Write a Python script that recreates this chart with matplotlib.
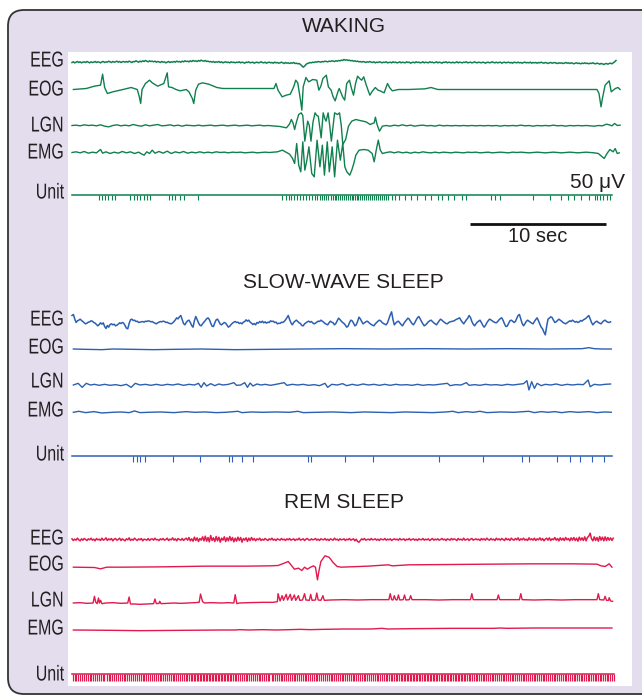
import numpy as np
import matplotlib.pyplot as plt
from matplotlib.patches import FancyBboxPatch, Rectangle
from matplotlib.patheffects import AbstractPathEffect
from matplotlib.transforms import Affine2D
from matplotlib import font_manager

# ---------------- data (time in s, amplitude in uV, up = positive) ----------------
DT = 0.1  # sampling step of the EEG lists

WAKE_EEG = [0, 2, -1, 1, 3, 0, 2, -1, 1, 2, 0, 3, 1, -1, 2, 0, 1, 3, 0, 2,
            1, -1, 2, 3, 0, 2, 1, 4, 2, 0, 3, 1, 2, 4, 1, 3, 0, 2, 3, 1,
            3, 1, 4, 2, 0, 3, 2, 5, 3, 1, 4, 2, 5, 3, 6, 4, 2, 5, 3, 4,
            2, 4, 1, 3, 2, 0, 3, 1, 2, -1, 1, 3, 0, 2, 1, 3, 1, 4, 2, 3,
            1, 4, 2, 5, 3, 4, 2, 5, 3, 6, 4, 5, 3, 6, 4, 7, 5, 4, 6, 3,
            4, 2, 3, 1, 3, 0, 2, 1, 3, 0, 2, -1, 1, 2, 0, 1, -1, 2, 0, 1,
            -1, 1, 0, 2, -1, 1, 0, -2, 1, 0, 2, -1, 0, 1, -2, 0, 1, -1, 0, 2,
            0, -1, 1, -2, 0, 1, -1, 0, -2, 1, -1, 0, -2, -1, 1, -1, -3, 0, -2, -1,
            -3, -1, -2, 0, -3, -2, -4, -3, -6, -10, -14, -11, -6, -3, -2, 0, -1, 1, 0, 2,
            1, 3, 2, 1, 3, 2, 4, 3, 2, 4, 3, 5, 4, 3, 5, 4, 6, 5, 7, 6,
            9, 7, 8, 6, 7, 5, 6, 4, 5, 3, 4, 2, 3, 1, 3, 2, 0, 2, 1, 3,
            1, 0, 2, -1, 1, 0, 2, 1, -1, 1, 0, 2, -1, 0, 1, -1, 2, 0, 1, -1,
            0, 2, -1, 1, 0, -1, 2, 0, 1, -2, 0, 1, -1, 2, 0, 1, -1, 0, 2, -1,
            1, 0, -1, 2, 0, 1, -1, 0, 2, -1, 1, 0, -2, 1, 0, 2, -1, 1, 0, -1,
            1, -1, 0, 2, -1, 1, 0, -1, 1, 0, 2, -1, 0, 1, -1, 0, 2, 0, -1, 1,
            0, -1, 1, 0, -2, 0, 1, -1, 0, 2, 0, -1, 1, -1, 0, 1, -2, 0, 1, -1,
            0, 1, -1, 0, -2, 1, 0, -1, 1, -1, 0, -2, 0, 1, -1, 0, -1, 1, -2, 0,
            -1, 0, -2, 0, -1, 1, -1, -2, 0, -1, -3, -1, 0, -2, -1, 0, -2, -3, -1, -2,
            -1, -3, -2, 0, -2, -1, -3, -1, -2, -4, -2, -1, -3, -2, -4, -2, -3, -1, -3, -2,
            -4, -2, -3, -1, -3, -4, -2, -3, -5, -3, -4, -6, -4, -3, -5, -3, -2, -4, -1, 2,
            6]

WAKE_EOG = [(0.1, 0), (1.05, 3), (1.65, 10), (2.1, 13), (2.25, 46), (2.4, 6), (2.6, -12),
            (3.0, -7), (3.75, 0), (4.35, 6), (4.8, 0), (4.95, -22), (5.05, -42), (5.15, 0),
            (5.4, 18), (5.7, 28), (5.9, 20), (6.3, 10), (6.75, 18), (7.0, 50), (7.1, 8),
            (7.35, 6), (7.65, 0), (7.95, -4), (8.4, 0), (8.6, -7), (8.85, -27), (8.95, -42),
            (9.1, -2), (9.3, 16), (9.6, 20), (10.05, 16), (10.65, 6), (11.1, 3), (14.85, 3),
            (15.0, 18), (15.15, -2), (15.45, -22), (15.75, -17), (16.05, -14), (16.3, 8),
            (16.45, 28), (16.6, 20), (16.8, -32), (16.9, -62), (17.0, 8), (17.2, 36),
            (17.4, 23), (17.7, 30), (18.0, 28), (18.15, -2), (18.3, 10), (18.45, 33),
            (18.7, 43), (18.85, 8), (19.05, -2), (19.2, -22), (19.35, -34), (19.55, -7),
            (19.65, 3), (19.9, -22), (20.05, -32), (20.2, 18), (20.4, 28), (20.55, 3),
            (20.7, -17), (20.85, 18), (21.0, 40), (21.15, 33), (21.3, 28), (21.45, 38),
            (21.6, 18), (21.75, 0), (21.9, -17), (22.05, -7), (22.3, 6), (22.5, -2),
            (22.65, -4), (22.95, -10), (23.2, 18), (23.35, 6), (23.55, -4), (24.0, 0),
            (24.75, 0), (25.95, 2), (26.4, 6), (26.9, 0), (38.6, 0), (38.75, -12),
            (38.9, -52), (39.0, -27), (39.2, 13), (39.5, 26), (39.65, -7), (39.95, 3),
            (40.15, 6), (40.3, 0)]

WAKE_LGN = [(0, 0), (0.3, 1), (0.6, -1), (0.9, 2), (1.2, 0), (1.5, 1), (1.8, -1), (2.1, 2),
            (2.4, -2), (2.7, -4), (3.0, 0), (3.3, 2), (3.6, -1), (3.9, 1), (4.2, -1), (4.5, 3),
            (4.8, 0), (5.1, -2), (5.4, 2), (5.7, -1), (6.0, 1), (6.3, 3), (6.6, -1), (6.9, 0),
            (7.2, 2), (7.5, -1), (7.8, 1), (8.1, -2), (8.4, 1), (8.7, 0), (9.0, -1), (9.3, 1),
            (9.6, -1), (9.9, 0), (10.2, 1), (10.5, -1), (10.8, 0), (11.1, 1), (11.4, -1),
            (11.7, 0), (12.0, 1), (12.3, -1), (12.6, 0), (12.9, 1), (13.2, -1), (13.5, 0),
            (13.8, 1), (14.1, -1), (14.4, 0), (14.7, -1), (15.0, -2), (15.3, -3), (15.55, -5),
            (15.77, -7), (16.0, 5), (16.13, 18), (16.25, 8), (16.37, -12), (16.5, 10),
            (16.67, 33), (16.85, 38), (16.97, 30), (17.12, -47), (17.33, 13), (17.45, 0),
            (17.57, -47), (17.72, 10), (17.87, 38), (18.0, 30), (18.11, 28), (18.32, -37),
            (18.47, 38), (18.6, 20), (18.68, 13), (18.83, 38), (18.95, 0), (19.07, -47),
            (19.2, 0), (19.31, 38), (19.52, 33), (19.67, 38), (19.8, 0), (19.91, -57),
            (20.12, -42), (20.33, -2), (20.57, 13), (20.87, 18), (21.17, 15), (21.62, 11),
            (21.92, 3), (22.22, 8), (22.31, 25), (22.43, 3), (22.61, -17), (22.82, -2),
            (23.1, 0), (23.4, -2), (23.7, 1), (24.0, -1), (24.3, 2), (24.6, -1), (24.9, 1),
            (25.2, -2), (25.5, 0), (25.8, 1), (26.1, -1), (26.4, 0), (26.7, -2), (27.0, 1),
            (27.3, -1), (27.6, 0), (27.9, -1), (28.2, 0), (28.5, -1), (28.8, 0), (29.1, -1),
            (29.4, 0), (29.7, -1), (30.0, 0), (30.3, -1), (30.6, 0), (30.9, -1), (31.2, 0),
            (31.5, -2), (31.8, 0), (32.1, -1), (32.4, 0), (32.7, -1), (33.0, 1), (33.3, -1),
            (33.6, 0), (33.9, -2), (34.2, 0), (34.5, -1), (34.8, 0), (35.1, -1), (35.4, 1),
            (35.7, -1), (36.0, 0), (36.3, -2), (36.6, 0), (36.9, -1), (37.2, 0), (37.5, -1),
            (37.8, 0), (38.1, -1), (38.4, -2), (38.7, 0), (39.0, -1), (39.3, 4), (39.5, 2),
            (39.7, -1), (39.9, 6), (40.1, 0), (40.3, 1)]

WAKE_EMG = [(0, 0), (0.3, 2), (0.6, -1), (0.9, 3), (1.2, -2), (1.5, 1), (1.8, -1), (2.1, 9),
            (2.25, -2), (2.5, 2), (2.8, -3), (3.1, 1), (3.4, -2), (3.7, 3), (4.0, -1), (4.3, 2),
            (4.6, -3), (4.9, 1), (5.1, -4), (5.3, -8), (5.5, 2), (5.7, -3), (5.9, 7), (6.1, -2),
            (6.4, 3), (6.7, -2), (7.0, 4), (7.3, -3), (7.6, 2), (7.9, -1), (8.2, 3), (8.5, -2),
            (8.8, 1), (9.1, -1), (9.4, 2), (9.7, -1), (10.0, 1), (10.3, -1), (10.6, 2),
            (10.9, 0), (11.2, 1), (11.5, -1), (11.8, 1), (12.1, 0), (12.4, 1), (12.7, -1),
            (13.0, 0), (13.3, 1), (13.6, -1), (13.9, 0), (14.2, 1), (14.5, 0), (14.8, 1),
            (15.1, 2), (15.47, 7), (15.77, 0), (16.0, -5), (16.22, -18), (16.37, -33),
            (16.52, 27), (16.67, -38), (16.82, -58), (16.97, 32), (17.12, -53), (17.27, -23),
            (17.42, 17), (17.63, -63), (17.81, -73), (18.02, 37), (18.23, -43), (18.41, 22),
            (18.56, -68), (18.77, 32), (18.92, -58), (19.13, 17), (19.31, -73), (19.52, 37),
            (19.73, -23), (19.91, 27), (20.06, -43), (20.21, -58), (20.42, -68), (20.57, -53),
            (20.72, -33), (20.87, -8), (21.11, 7), (21.47, 9), (21.77, 7), (22.07, -3),
            (22.22, -28), (22.37, 7), (22.52, 37), (22.67, 7), (22.82, -3), (23.12, 0),
            (23.4, 2), (23.7, -1), (24.0, 2), (24.3, -1), (24.6, 1), (24.9, -2), (25.2, 1),
            (25.5, -1), (25.8, 2), (26.1, 0), (26.4, -1), (26.7, 1), (27.0, -1), (27.3, 1),
            (27.6, 0), (27.9, -1), (28.2, 1), (28.5, 0), (28.8, -1), (29.1, 1), (29.4, 0),
            (29.7, 1), (30.0, -1), (30.3, 0), (30.6, 1), (30.9, -1), (31.2, 0), (31.5, 1),
            (31.8, 0), (32.1, -1), (32.4, 1), (32.7, 0), (33.0, 1), (33.3, 0), (33.6, -1),
            (33.9, 0), (34.2, 1), (34.5, 0), (34.8, -1), (35.1, 0), (35.4, 1), (35.7, 0),
            (36.0, -1), (36.3, 0), (36.6, 1), (36.9, 0), (37.2, -1), (37.5, 0), (37.8, 1),
            (38.1, 0), (38.4, -1), (38.7, -3), (39.13, -18), (39.34, -3), (39.55, 9),
            (39.79, 2), (39.94, 12), (40.09, -3), (40.24, -1)]

WAKE_UNIT = [1.95, 2.19, 2.43, 2.67, 2.91, 3.15, 4.29, 4.53, 4.77, 5.02, 5.26, 5.5, 5.71,
             7.12, 7.36, 7.6, 7.96, 8.26, 9.28,
             15.47, 15.77, 15.92, 16.13, 16.31, 16.52, 16.76, 16.97, 17.21, 17.42, 17.66,
             17.87, 18.05, 18.23, 18.41, 18.56, 18.71, 18.86, 19.01, 19.16, 19.31, 19.43,
             19.55, 19.67, 19.82, 19.97, 20.12, 20.27, 20.42, 20.57, 20.69, 20.81, 20.93,
             21.05, 21.17, 21.32, 21.47, 21.62, 21.77, 21.92, 22.07, 22.22, 22.37, 22.52,
             22.67, 22.82, 22.97, 23.12, 23.27, 23.51, 23.72,
             24.02, 24.47, 24.92, 25.38, 25.98, 26.43, 26.88, 27.18, 27.63, 28.08, 28.68,
             28.98, 30.78, 31.08, 31.44, 33.93, 35.14, 35.95, 36.49, 36.94, 37.39, 37.99,
             38.44, 38.59, 38.83, 39.07, 39.34, 39.55]

SWS_EEG = [18, 21, 8, -3, 2, 4, 7, 3, 0, -4, -7, -5, -2, -1, 2, 1, -3, -5, -9, -13,
           -9, -4, -8, -4, -15, -21, -12, -17, -9, -7, -10, -8, -13, -11, -8, -4, -6, -3, -5, -12,
           -20, -22, -6, 5, 7, 3, 4, 0, 1, -3, -2, -1, 0, -2, 1, 0, 2, 1, -1, 0,
           -3, -5, -7, -4, -2, 0, -1, 1, 0, -3, -2, -5, -6, -7, -4, 0, 5, 11, 8, 14,
           18, 6, -6, -10, -3, 2, 4, -3, -12, -17, 2, 15, 6, -4, -11, -13, -7, -2, 3, 8,
           11, 6, -5, -14, -15, -4, 5, 7, 0, -8, -10, -6, -3, -5, -11, -17, -14, -9, -5, -2,
           0, -3, -2, -6, -4, -7, -2, 0, 5, 1, 4, -2, -5, -9, -6, -10, -3, -5, 0, -3,
           1, -4, -1, -5, -2, -3, 2, 0, 1, -3, -2, -7, -5, -6, -2, -3, 0, 5, 11, 18,
           6, -4, -10, -3, 1, 4, 0, -4, -6, -12, -13, -7, -4, -1, 1, -2, 0, -4, -7, -5,
           -2, 1, 0, 4, 1, -2, -6, -8, -10, -4, 1, -2, -4, -10, -6, 2, 10, 6, 1, -3,
           -6, -11, -17, -14, -4, 4, 2, -5, -13, -10, 0, 13, 8, 0, -7, -4, -1, 1, -2, -6,
           -9, -11, -13, -7, -3, 1, 4, 2, -3, -6, -8, -10, -4, 8, 20, 29, 6, -10, -5, -1,
           1, -4, -9, -13, -6, 0, 5, 10, 7, 0, -6, -10, -4, 4, 11, 15, 8, 0, -7, -13,
           -10, -6, -1, 2, 4, 0, -4, -7, -10, -4, 2, 7, 4, 0, -3, -6, -7, -3, -1, 0,
           1, 2, 5, 7, 9, 11, 4, -2, -7, -1, 5, 10, 18, 12, 0, -8, -13, -7, -2, 1,
           4, -3, -11, -17, -12, -4, 2, 7, 5, 2, -1, -3, -4, 0, 5, 9, 11, 3, -7, -15,
           -14, -6, 2, 4, 1, -3, 0, 9, 18, 21, 8, -6, -13, -7, 0, 4, 1, -2, -5, -7,
           0, 6, 11, 2, -8, -17, -22, -32, -40, -15, 7, 10, 14, 12, 4, -3, -1, 3, 7, 4,
           1, -3, -5, -7, -4, -1, 2, 0, 4, 1, -2, 0, -3, -1, 3, 1, 5, 7, 10, 14,
           18, 8, -3, -10, -5, -1, 1, -3, -5, -7, -2, 2, 4, 0, -2, -3, -1]

SWS_EOG = [(0.1, 0), (1.0, -1), (2.2, -2), (3.0, 0), (4.5, -1), (6.0, -2), (7.5, -1),
           (9.5, 0), (12.0, -2), (14.5, -1), (17.0, 0), (20.0, 1), (23.0, 0), (26.0, 1),
           (29.0, 0), (32.0, 1), (35.0, 0), (37.5, 1), (38.0, 4), (38.4, 1), (39.0, 0),
           (39.65, 0)]

SWS_LGN = [(0.1, 0), (0.45, 5), (0.75, -7), (1.05, 5), (1.35, 0), (1.65, 2), (2.0, -1),
           (2.4, 2), (2.8, -1), (3.2, 1), (3.6, -2), (4.0, 2), (4.35, -7), (4.65, 5), (5.0, 0),
           (5.4, 2), (5.8, -1), (6.2, 2), (6.6, -1), (7.0, 2), (7.4, 0), (7.8, 3), (8.2, -1),
           (8.6, 2), (9.0, 0), (9.3, 5), (9.5, -7), (9.7, 7), (9.9, -3), (10.2, 4), (10.5, -2),
           (10.8, 3), (11.1, 0), (11.5, 2), (11.9, 7), (12.1, -1), (12.4, 0), (12.7, 7),
           (12.9, -7), (13.1, 6), (13.3, -3), (13.6, 3), (13.9, 0), (14.2, 2), (14.6, -1),
           (15.0, 2), (15.6, 7), (15.8, -1), (16.2, 2), (16.6, 0), (17.0, 2), (17.4, -1),
           (17.8, 1), (18.2, -2), (18.6, 5), (18.8, -7), (19.1, 2), (19.5, 0), (19.9, 4),
           (20.2, -2), (20.6, 2), (21.0, -1), (21.4, 3), (21.8, 0), (22.2, 2), (22.6, -1),
           (23.0, 2), (23.4, -1), (23.8, 2), (24.2, 0), (24.6, 1), (25.0, -1), (25.4, 2),
           (25.8, -1), (26.2, 1), (26.6, 0), (27.0, 2), (27.6, 5), (27.8, -2), (28.2, 1),
           (28.6, 0), (29.0, 7), (29.2, -1), (29.6, 1), (30.0, -1), (30.4, 2), (30.8, 0),
           (31.2, 1), (31.6, -1), (32.0, 2), (32.4, 0), (32.8, 2), (33.2, 4), (33.45, 13),
           (33.6, -15), (33.8, 10), (34.0, -10), (34.2, 5), (34.5, -2), (34.8, 2), (35.2, 0),
           (35.6, 3), (36.0, -1), (36.4, 2), (36.8, 0), (37.2, 2), (37.6, 1), (37.95, 15),
           (38.1, -5), (38.4, 2), (38.8, 0), (39.2, 2), (39.6, 3)]

SWS_EMG = [(0.1, 0), (0.5, 3), (1.0, -1), (1.6, 2), (2.2, -2), (3.0, 0), (3.6, 1), (4.2, -1),
           (4.6, 4), (5.0, -1), (5.6, 0), (6.5, 1), (7.5, -1), (8.4, 2), (9.0, 0), (9.8, 1),
           (10.6, -1), (11.3, 0), (12.2, 3), (12.5, -1), (13.2, 1), (14.0, 0), (15.0, 1),
           (16.0, 0), (16.6, 3), (17.0, -1), (18.0, 0), (19.2, 1), (20.5, -1), (21.5, 1),
           (22.5, 0), (23.5, -1), (24.5, 1), (25.5, 0), (26.5, -1), (27.5, 1), (28.0, 3),
           (28.4, -1), (29.0, 2), (29.5, 0), (30.0, 3), (30.5, -1), (31.5, 1), (32.5, 0),
           (33.2, 2), (33.6, 3), (34.0, -1), (34.5, 2), (35.0, 0), (35.5, 2), (36.0, -1),
           (36.6, 2), (37.2, 0), (38.0, 2), (38.6, -1), (39.2, 1), (39.65, 0)]

SWS_UNIT = [4.5, 4.75, 5.0, 5.4, 7.45, 9.4, 11.55, 11.75, 12.5, 13.3, 17.35, 17.6, 20.05,
            22.1, 26.95, 30.2, 33.1, 33.6, 35.65, 36.65, 37.35, 38.25, 39.1]

REM_EEG = [2, -3, 1, -2, 4, -1, -4, 2, -2, 3, 0, -3, 2, -1, 4, -2, 1, -4, 3, -1,
           1, -3, 4, -2, 0, 5, -3, 2, -1, 3, -4, 1, 3, -2, 0, 4, -3, 2, -1, -4,
           2, -1, 5, -3, 1, -2, 4, 0, -3, 2, -1, 3, -4, 1, 0, -2, 3, -3, 1, 2,
           -2, 4, -1, 0, -3, 2, -1, 3, -2, 0, 4, -3, 1, -1, 5, -2, 2, -4, 3, 0,
           -2, 3, -3, 1, 4, -2, 6, -4, 2, -5, 7, -3, 5, -6, 3, -2, 8, -4, 10, -5,
           6, -7, 12, -3, 5, -6, 9, -4, 7, -8, 4, -2, 8, -6, 5, -4, 9, -3, 6, -7,
           4, -5, 7, -3, 6, -8, 3, -2, 5, -6, 4, -3, 6, -2, 3, -4, 2, -1, 4, -3,
           1, -2, 3, 0, -3, 2, -1, 4, -2, 1, -3, 2, 0, -2, 3, -1, 1, -3, 2, -1,
           3, -2, 0, 2, -3, 1, -1, 4, -2, 0, 2, -3, 1, 3, -1, -2, 2, -1, 0, 3,
           -2, 1, -3, 2, 0, -1, 3, -2, 1, -3, 2, 0, -2, 4, -1, 1, -3, 2, -1, 0,
           2, -3, 1, -1, 3, -2, 0, 2, -4, 1, -6, -8, -3, 2, -1, 3, -2, 0, 1, -2,
           3, -1, 0, 2, -2, 1, -3, 2, 0, -1, 3, -2, 1, -1, 2, -3, 0, 2, -1, 1,
           -2, 3, -1, 0, 2, -3, 1, -1, 3, -2, 0, 2, -2, 1, -3, 2, 0, -1, 3, -2,
           1, -1, 2, -3, 0, 3, -2, 1, -1, 2, -2, 0, 3, -1, 1, -3, 2, 0, -2, 3,
           -1, 2, 0, -3, 3, -1, 1, -2, 4, -2, 0, 2, -3, 1, 3, -2, 0, 2, -1, 1,
           -3, 3, -1, 2, -2, 4, 0, -2, 3, -1, 1, -3, 4, -1, 2, -2, 3, 0, -3, 4,
           -1, 2, -3, 4, 0, -2, 3, -1, 5, -3, 2, -1, 4, -2, 1, -3, 5, -1, 2, -2,
           4, -3, 2, -1, 5, -2, 3, -4, 1, 4, -2, 5, -3, 2, -1, 6, -2, 3, -4, 5,
           -2, 4, -3, 6, -1, 3, -4, 5, -2, 6, -3, 4, -5, 7, -2, 5, -3, 8, -4, 6,
           10, 19, 2, -4, 8, -3, 6, -5, 9, -2, 7, -4, 8, -3, 6, -2, 5, -3, 4]

REM_EOG = [(0.1, -2), (1.65, -3), (2.1, -7), (2.55, -2), (3.75, -2), (6.75, -1), (9.75, 1),
           (12.75, 1), (14.55, 2), (15.15, 3), (15.6, 10), (15.9, 15), (16.1, 5),
           (16.35, -8), (16.65, -5), (16.9, -12), (17.1, -2), (17.3, -8), (17.55, -2),
           (17.75, 2), (17.9, -2), (18.05, -40), (18.15, -15), (18.3, 15), (18.6, 32),
           (18.9, 28), (19.2, 12), (19.5, 0), (19.8, -2), (21.75, 1), (23.25, 5), (23.55, 2),
           (24.75, 5), (27.75, 6), (30.75, 7), (33.75, 8), (36.8, 8), (38.6, 7), (38.9, 2),
           (39.2, 0), (39.5, 8), (39.7, -2)]

REM_LGN = [(0.1, 0), (0.6, 1), (1.1, -1), (1.55, 0), (1.65, 20), (1.75, 2), (1.85, -2),
           (1.95, 15), (2.02, 0), (2.1, 8), (2.2, -2), (2.5, 0), (3.0, 1), (3.6, -1), (4.1, 0),
           (4.2, 18), (4.3, -3), (4.6, -3), (5.0, -4), (5.5, -3), (6.0, -2), (6.1, 12),
           (6.2, -2), (6.4, -1), (6.45, 5), (6.55, -2), (7.0, -1), (7.5, 0), (8.0, -1),
           (8.5, 0), (9.0, 1), (9.35, 2), (9.45, 27), (9.6, 4), (9.75, 0), (10.2, 1),
           (11.0, 0), (11.5, 1), (11.9, 0), (12.0, 25), (12.12, -2), (12.3, 0), (13.0, 1),
           (14.0, 2), (14.8, 2), (15.1, 4), (15.15, 28), (15.3, 6), (15.45, 22), (15.55, 8),
           (15.75, 26), (15.85, 9), (16.05, 26), (16.15, 8), (16.35, 24), (16.45, 8),
           (16.65, 22), (16.75, 8), (16.95, 9), (17.1, 28), (17.2, 9), (17.45, 8),
           (17.55, 26), (17.65, 8), (17.9, 9), (18.0, 30), (18.1, 9), (18.3, 8), (18.45, 22),
           (18.55, 8), (19.0, 9), (20.0, 10), (21.0, 9), (22.0, 10), (23.0, 10), (23.3, 10),
           (23.4, 28), (23.5, 10), (23.6, 9), (23.7, 22), (23.8, 10), (23.9, 9), (24.0, 24),
           (24.1, 9), (24.35, 10), (24.45, 24), (24.55, 9), (24.8, 10), (24.9, 22),
           (25.0, 10), (26.0, 10), (27.0, 9), (28.0, 10), (29.3, 10), (29.4, 28), (29.5, 10),
           (30.5, 10), (31.25, 10), (31.35, 24), (31.45, 10), (32.0, 10), (32.9, 10),
           (33.0, 28), (33.1, 10), (34.0, 9), (35.0, 10), (36.0, 9), (37.0, 10), (38.0, 10),
           (38.6, 10), (38.7, 28), (38.8, 10), (39.1, 9), (39.2, 20), (39.3, 8), (39.45, 8),
           (39.5, 16), (39.6, 6), (39.75, 5)]

REM_EMG = [(0.1, 0), (3, -1), (5, -2), (8, -1), (11, 0), (12, 0), (12.3, 1), (13, 0), (14, 1),
           (15, 0), (16, 1), (16.8, 2), (17.5, 1), (18.5, 2), (20, 3), (22, 3), (22.8, 5),
           (23.2, 3), (25, 4), (28, 5), (31, 5), (31.5, 6), (32, 5), (34, 6), (37, 6),
           (39.7, 6)]

REM_UNIT = [0.04, 0.19, 0.33, 0.45, 0.61, 0.74, 0.88,
            1.02, 1.15, 1.31, 1.42, 1.58, 1.71, 1.86,
            2.0, 2.13, 2.29, 2.38, 2.55, 2.69, 2.82, 2.95,
            3.11, 3.24, 3.39, 3.5, 3.66, 3.79, 3.93,
            4.07, 4.22, 4.34, 4.49, 4.63, 4.78, 4.9,
            5.05, 5.2, 5.31, 5.47, 5.6, 5.74, 5.89,
            6.01, 6.17, 6.3, 6.44, 6.57, 6.72, 6.86, 6.97,
            7.12, 7.25, 7.4, 7.53, 7.66, 7.81, 7.94,
            8.08, 8.21, 8.35, 8.47, 8.6, 8.72, 8.84, 8.95,
            9.06, 9.17, 9.28, 9.39, 9.5, 9.6, 9.72, 9.83, 9.94,
            10.05, 10.16, 10.26, 10.37, 10.49, 10.6, 10.7, 10.82, 10.93,
            11.04, 11.15, 11.27, 11.38, 11.48, 11.6, 11.71, 11.83, 11.95,
            12.09, 12.22, 12.36, 12.5, 12.63, 12.77, 12.9,
            13.04, 13.18, 13.3, 13.45, 13.58, 13.72, 13.86, 13.98,
            14.12, 14.25, 14.4, 14.52, 14.67, 14.8, 14.94,
            15.08, 15.2, 15.35, 15.47, 15.62, 15.75, 15.89,
            16.03, 16.16, 16.3, 16.43, 16.58, 16.7, 16.85, 16.97,
            17.1, 17.24, 17.38, 17.5, 17.65, 17.78, 17.92,
            18.05, 18.19, 18.32, 18.46, 18.6, 18.73, 18.87,
            19.01, 19.14, 19.28, 19.41, 19.55, 19.68, 19.82, 19.95,
            20.09, 20.22, 20.36, 20.49, 20.63, 20.77, 20.9,
            21.04, 21.17, 21.31, 21.44, 21.58, 21.71, 21.85, 21.98,
            22.12, 22.25, 22.39, 22.52, 22.66, 22.8, 22.93,
            23.06, 23.19, 23.31, 23.44, 23.56, 23.69, 23.81, 23.93,
            24.05, 24.16, 24.27, 24.38, 24.5, 24.61, 24.72, 24.84, 24.95,
            25.06, 25.17, 25.29, 25.4, 25.51, 25.62, 25.74, 25.85, 25.96,
            26.08, 26.19, 26.3, 26.42, 26.53, 26.64, 26.76, 26.87, 26.98,
            27.1, 27.21, 27.33, 27.44, 27.55, 27.67, 27.78, 27.9,
            28.01, 28.13, 28.24, 28.36, 28.47, 28.59, 28.7, 28.82, 28.93,
            29.05, 29.18, 29.3, 29.43, 29.55, 29.68, 29.8, 29.93,
            30.06, 30.19, 30.32, 30.46, 30.59, 30.72, 30.86, 30.99,
            31.12, 31.26, 31.39, 31.52, 31.66, 31.79, 31.92,
            32.06, 32.19, 32.33, 32.46, 32.6, 32.73, 32.87,
            33.0, 33.13, 33.27, 33.4, 33.54, 33.67, 33.8, 33.94,
            34.07, 34.2, 34.34, 34.47, 34.61, 34.74, 34.88,
            35.01, 35.15, 35.28, 35.41, 35.55, 35.68, 35.82, 35.95,
            36.08, 36.22, 36.35, 36.49, 36.62, 36.75, 36.89,
            37.02, 37.15, 37.28, 37.4, 37.53, 37.66, 37.79, 37.92,
            38.04, 38.17, 38.3, 38.42, 38.55, 38.68, 38.81, 38.93,
            39.06, 39.19, 39.31, 39.44, 39.57, 39.7, 39.83]

CHANNELS = ["EEG", "EOG", "LGN", "EMG", "Unit"]
STATES = ["WAKING", "SLOW-WAVE SLEEP", "REM SLEEP"]

# ---------------- layout ----------------
W, H = 642, 695
X0 = 72            # px where t = 0
PX_PER_S = 13.6
UV_PER_PX = 3.0

GREEN, BLUE, RED = "#10804f", "#2c5fb2", "#e2194d"
LAVENDER = "#e4ddee"
INK = "#231f20"

names = {f.name for f in font_manager.fontManager.ttflist}
SANS = "Liberation Sans" if "Liberation Sans" in names else "DejaVu Sans"


class Squeeze(AbstractPathEffect):
    """Horizontally condense glyphs, keeping the right edge fixed."""

    def __init__(self, sx):
        super().__init__()
        self.sx = sx

    def draw_path(self, renderer, gc, tpath, affine, rgbFace=None):
        xr = affine.transform(tpath.vertices)[:, 0].max()
        tr = affine + Affine2D().translate(-xr, 0).scale(self.sx, 1).translate(xr, 0)
        renderer.draw_path(gc, tpath, tr, rgbFace)


panels = [
    dict(title=STATES[0], ty=27, color=GREEN,
         base=[62.5, 89.5, 125.5, 152.5, 194.5], lab=[61, 90, 126, 153, 193],
         traces=[WAKE_EEG, WAKE_EOG, WAKE_LGN, WAKE_EMG], unit=WAKE_UNIT, uh=17, uend=39.7,
         ulw=0.8),
    dict(title=STATES[1], ty=283, color=BLUE,
         base=[321.5, 349, 385, 412.3, 455.5], lab=[320, 348, 382, 411, 455],
         traces=[SWS_EEG, SWS_EOG, SWS_LGN, SWS_EMG], unit=SWS_UNIT, uh=18, uend=39.7,
         ulw=0.8),
    dict(title=STATES[2], ty=503, color=RED,
         base=[539.5, 566.5, 603, 630, 673.5], lab=[539, 565, 601, 629, 675],
         traces=[REM_EEG, REM_EOG, REM_LGN, REM_EMG], unit=REM_UNIT, uh=22, uend=39.85,
         ulw=0.85),
]

fig = plt.figure(figsize=(W / 100, H / 100), dpi=100)

# background layer in pixel units
bg = fig.add_axes([0, 0, 1, 1])
bg.set_xlim(0, W)
bg.set_ylim(H, 0)
bg.axis("off")
bg.add_patch(FancyBboxPatch((8, 10), 660, 684, boxstyle="round,pad=0,rounding_size=16",
                            fc=LAVENDER, ec="#333333", lw=1.3))
bg.add_patch(Rectangle((68, 52), 564, 634, fc="white", ec="none"))

# trace layer: x in seconds, y in microvolts (stacked)
ax = fig.add_axes([0, 0, 1, 1])
ax.set_xlim(-X0 / PX_PER_S, (W - X0) / PX_PER_S)
ax.set_ylim(-H * UV_PER_PX, 0)
ax.axis("off")
ax.patch.set_alpha(0)

for p in panels:
    bg.text(343.5, p["ty"], p["title"], ha="center", va="center", fontsize=15,
            family=SANS, color=INK)
    for name, ly in zip(CHANNELS, p["lab"]):
        bg.text(64, ly, name, ha="right", va="center", fontsize=15.5,
                family=SANS, color=INK, path_effects=[Squeeze(0.74)])
    offs = [-b * UV_PER_PX for b in p["base"]]
    for k, (tr, off) in enumerate(zip(p["traces"], offs[:4])):
        if isinstance(tr[0], tuple):
            t, v = np.array(tr, dtype=float).T
        else:
            v = np.array(tr, dtype=float)
            t = np.arange(len(v)) * DT
        ax.plot(t, off + v, color=p["color"], lw=1.1 if k == 0 else 1.0,
                solid_joinstyle="round")
    uoff = offs[4]
    ax.plot([0, p["uend"]], [uoff, uoff], color=p["color"], lw=1.1)
    ax.vlines(p["unit"], uoff - p["uh"], uoff, color=p["color"], lw=p["ulw"])

# scale bar
ax.plot([(470 - X0) / PX_PER_S, (470 - X0) / PX_PER_S + 10], [-224 * UV_PER_PX] * 2,
        color="#111111", lw=2.0, solid_capstyle="butt")
bg.text(538, 237, "10 sec", ha="center", va="center", fontsize=14.5, family=SANS, color=INK)
bg.text(625, 183, "50 \u03bcV", ha="right", va="center", fontsize=15, family=SANS, color=INK)

fig.savefig("out.png", dpi=100)
